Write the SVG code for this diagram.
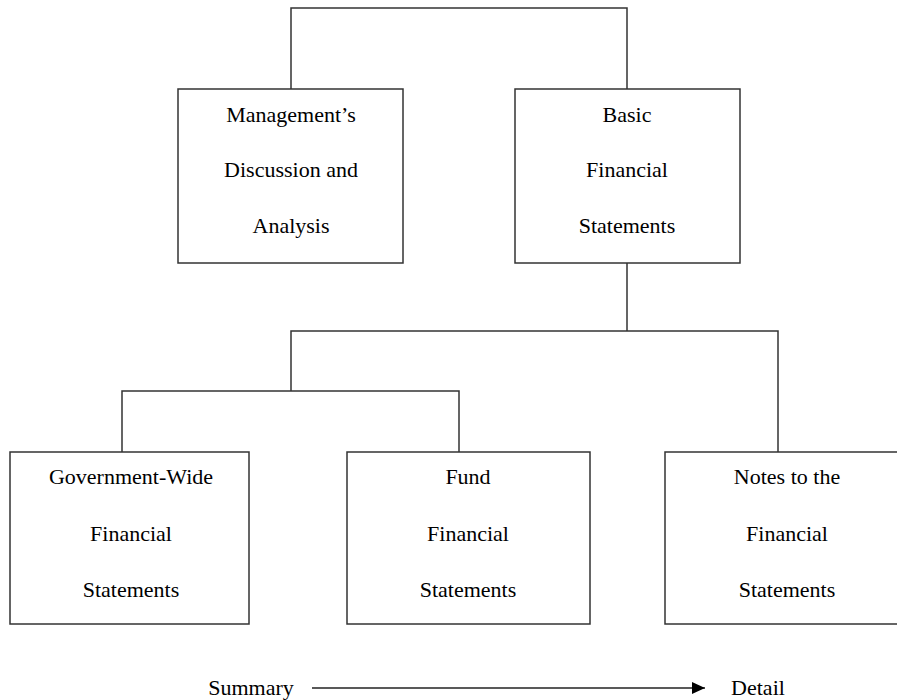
<svg xmlns="http://www.w3.org/2000/svg" width="897" height="700" viewBox="0 0 897 700">
<style>
.box{fill:#fff;stroke:#333;stroke-width:1.5}
.ln{fill:none;stroke:#333;stroke-width:1.5}
text{font-family:"Liberation Serif","Times New Roman",serif;font-size:22px;fill:#000;text-anchor:middle}
</style>
<defs>
<marker id="ah" markerWidth="13" markerHeight="12" refX="13" refY="6" orient="auto" markerUnits="userSpaceOnUse">
<path d="M0,0 L13,6 L0,12 Z" fill="#000"/>
</marker>
</defs>
<rect width="897" height="700" fill="#fff"/>
<g id="connectors">
<path class="ln" d="M291,89 V8 H627 V89"/>
<path class="ln" d="M627,263 V331 M291,391 V331 H778 V452"/>
<path class="ln" d="M122,452 V391 H459 V452"/>
<line x1="312" y1="688" x2="705" y2="688" stroke="#222" stroke-width="1.6" marker-end="url(#ah)"/>
</g>
<g id="mda">
<rect class="box" x="178" y="89" width="225" height="174"/>
<text x="291" y="122">Management’s</text>
<text x="291" y="177">Discussion and</text>
<text x="291" y="233">Analysis</text>
</g>
<g id="bfs">
<rect class="box" x="515" y="89" width="225" height="174"/>
<text x="627" y="122">Basic</text>
<text x="627" y="177">Financial</text>
<text x="627" y="233">Statements</text>
</g>
<g id="gwfs">
<rect class="box" x="10" y="452" width="239" height="172"/>
<text x="131" y="484">Government-Wide</text>
<text x="131" y="541">Financial</text>
<text x="131" y="597">Statements</text>
</g>
<g id="ffs">
<rect class="box" x="347" y="452" width="243" height="172"/>
<text x="468" y="484">Fund</text>
<text x="468" y="541">Financial</text>
<text x="468" y="597">Statements</text>
</g>
<g id="notes">
<rect class="box" x="665" y="452" width="242" height="172"/>
<text x="787" y="484">Notes to the</text>
<text x="787" y="541">Financial</text>
<text x="787" y="597">Statements</text>
</g>
<g id="legend">
<text x="251" y="695">Summary</text>
<text x="758" y="695">Detail</text>
</g>
</svg>
